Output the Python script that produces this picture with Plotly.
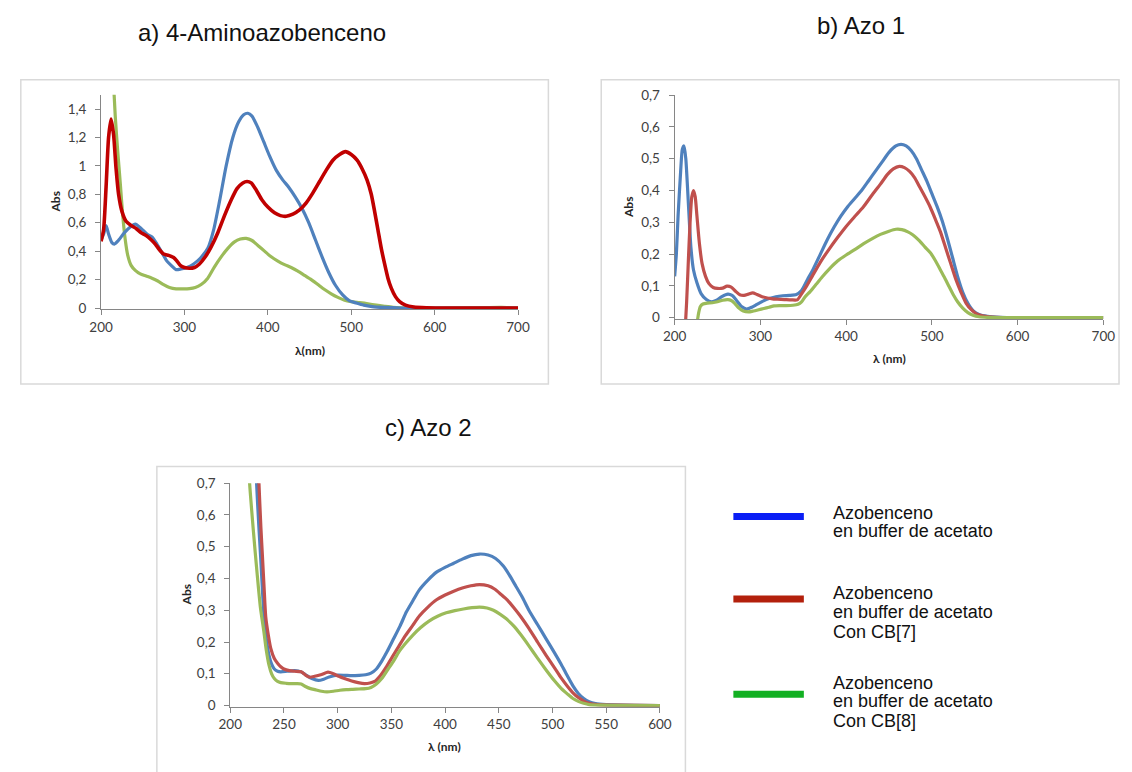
import plotly.graph_objects as go

W, H = 1132, 772

# ---------------- DATA ----------------
# a) 4-Aminoazobenceno
a_blue_wl = [200, 203, 206, 209, 213, 216, 220, 228, 235, 241, 248, 255, 261, 267, 273, 279, 284, 290, 296, 303,
             311, 319, 328, 335, 342, 350, 358, 365, 371, 376, 381, 388, 395, 402, 410, 418, 425, 433, 441, 449,
             457, 465, 473, 481, 490, 498, 506, 515, 525, 540, 560, 600, 700]
a_blue_abs = [0.48, 0.52, 0.58, 0.52, 0.46, 0.45, 0.47, 0.53, 0.57, 0.59, 0.56, 0.52, 0.50, 0.45, 0.39, 0.33, 0.30, 0.27, 0.275, 0.285,
              0.31, 0.35, 0.42, 0.55, 0.75, 1.00, 1.20, 1.31, 1.36, 1.37, 1.35, 1.27, 1.17, 1.07, 0.97, 0.90, 0.85, 0.78, 0.70, 0.60,
              0.48, 0.36, 0.25, 0.16, 0.09, 0.05, 0.035, 0.02, 0.01, 0.004, 0.0, 0.0, 0.0]

a_red_wl = [200, 203, 206, 209, 212, 215, 218, 221, 225, 230, 236, 242, 248, 254, 260, 265, 270, 275, 281, 287,
            291, 295, 300, 306, 312, 318, 325, 332, 340, 348, 356, 363, 370, 375, 380, 386, 393, 400, 408, 415,
            422, 430, 438, 446, 454, 462, 470, 478, 486, 493, 500, 507, 513, 519, 524, 528, 532, 536, 540, 544,
            548, 553, 558, 565, 575, 590, 620, 700]
a_red_abs = [0.47, 0.55, 0.85, 1.20, 1.33, 1.22, 0.98, 0.80, 0.68, 0.61, 0.58, 0.56, 0.53, 0.51, 0.48, 0.45, 0.41, 0.38, 0.37, 0.355,
             0.33, 0.30, 0.285, 0.28, 0.285, 0.31, 0.36, 0.43, 0.53, 0.65, 0.76, 0.84, 0.88, 0.89, 0.88, 0.83, 0.76, 0.71, 0.67, 0.65,
             0.645, 0.66, 0.69, 0.74, 0.81, 0.89, 0.97, 1.04, 1.08, 1.10, 1.08, 1.04, 0.98, 0.90, 0.80, 0.68, 0.55, 0.42, 0.31, 0.21,
             0.14, 0.08, 0.045, 0.02, 0.007, 0.002, 0.0, 0.0]

a_green_wl = [205, 210, 214, 217, 220, 223, 226, 229, 232, 236, 241, 247, 254, 261, 268, 275, 282, 290, 298, 306,
              313, 320, 328, 336, 344, 352, 360, 367, 374, 381, 388, 396, 404, 412, 420, 428, 436, 444, 452, 460,
              468, 476, 484, 492, 500, 510, 520, 530, 540, 550, 560, 600, 660, 680, 700]
a_green_abs = [3.0, 2.3, 1.7, 1.35, 1.10, 0.88, 0.65, 0.48, 0.37, 0.30, 0.265, 0.24, 0.225, 0.21, 0.19, 0.165, 0.145, 0.135, 0.135, 0.137,
               0.145, 0.165, 0.21, 0.29, 0.36, 0.42, 0.465, 0.485, 0.49, 0.475, 0.44, 0.40, 0.36, 0.33, 0.305, 0.285, 0.26, 0.23, 0.20, 0.165,
               0.13, 0.10, 0.075, 0.055, 0.045, 0.038, 0.03, 0.02, 0.012, 0.005, 0.002, 0.0, 0.003, 0.004, 0.0]

# b) Azo 1
b_blue_wl = [200, 202, 204, 207, 209, 211, 213, 216, 219, 222, 226, 231, 237, 243, 249, 255, 262, 267, 272, 278,
             284, 290, 296, 303, 310, 318, 326, 334, 342, 348, 355, 362, 370, 378, 386, 394, 402, 410, 418, 426,
             434, 442, 450, 458, 464, 470, 476, 482, 488, 494, 500, 506, 512, 518, 524, 530, 536, 542, 548, 555,
             565, 580, 600, 700]
b_blue_abs = [0.13, 0.20, 0.32, 0.46, 0.53, 0.54, 0.50, 0.36, 0.22, 0.15, 0.11, 0.075, 0.057, 0.05, 0.055, 0.066, 0.074, 0.07, 0.055, 0.035,
              0.027, 0.033, 0.042, 0.052, 0.06, 0.066, 0.069, 0.07, 0.073, 0.085, 0.12, 0.155, 0.20, 0.245, 0.285, 0.32, 0.35, 0.375, 0.40, 0.43,
              0.46, 0.49, 0.52, 0.54, 0.545, 0.54, 0.525, 0.50, 0.465, 0.43, 0.39, 0.35, 0.305, 0.25, 0.19, 0.13, 0.08, 0.045, 0.022, 0.01,
              0.004, 0.001, 0.0, 0.0]

b_red_wl = [212, 214, 216, 218, 220, 222, 224, 226, 229, 232, 236, 240, 245, 250, 256, 261, 266, 271, 276, 281,
            286, 291, 296, 302, 308, 314, 320, 328, 336, 343, 348, 354, 361, 370, 380, 390, 400, 410, 420, 430,
            440, 448, 455, 462, 468, 474, 480, 486, 492, 498, 504, 510, 516, 522, 528, 534, 540, 546, 552, 560,
            575, 600, 700]
b_red_abs = [-0.05, 0.05, 0.18, 0.30, 0.38, 0.40, 0.38, 0.32, 0.23, 0.17, 0.13, 0.107, 0.095, 0.092, 0.093, 0.099, 0.096, 0.083, 0.072, 0.07,
             0.074, 0.078, 0.073, 0.066, 0.062, 0.059, 0.058, 0.057, 0.056, 0.056, 0.075, 0.10, 0.133, 0.175, 0.215, 0.252, 0.287, 0.318, 0.348, 0.385,
             0.42, 0.45, 0.468, 0.476, 0.472, 0.46, 0.44, 0.41, 0.38, 0.348, 0.31, 0.27, 0.22, 0.17, 0.12, 0.08, 0.045, 0.025, 0.012, 0.005,
             0.001, 0.0, 0.0]

b_green_wl = [226, 228, 230, 233, 238, 244, 250, 256, 262, 266, 270, 275, 280, 286, 292, 298, 304, 310, 316, 322,
              330, 338, 344, 348, 352, 358, 365, 372, 380, 390, 400, 410, 420, 430, 440, 450, 458, 465, 472, 478,
              485, 492, 498, 504, 510, 515, 520, 525, 530, 536, 542, 548, 555, 565, 600, 700]
b_green_abs = [-0.02, 0.015, 0.035, 0.043, 0.046, 0.047, 0.05, 0.055, 0.057, 0.054, 0.045, 0.03, 0.021, 0.018, 0.021, 0.025, 0.029, 0.033, 0.037, 0.038,
               0.038, 0.039, 0.042, 0.05, 0.065, 0.082, 0.105, 0.128, 0.152, 0.178, 0.197, 0.214, 0.232, 0.248, 0.262, 0.272, 0.278, 0.277, 0.27, 0.26,
               0.243, 0.222, 0.205, 0.18, 0.15, 0.125, 0.098, 0.072, 0.05, 0.03, 0.016, 0.008, 0.003, 0.001, 0.0, 0.0]

# c) Azo 2
c_blue_wl = [220, 222.5, 224.5, 226.5, 228.3, 230, 231.4, 233.5, 236, 238.5, 241, 244, 247, 253, 260, 266, 271, 276, 282, 287,
             292, 300, 307, 313, 320, 326, 331, 336, 341, 346, 352, 358, 364, 370, 376, 384, 392, 400, 408, 416,
             424, 432, 440, 447, 454, 460, 466, 472, 478, 486, 494, 502, 508, 514, 519, 524, 529, 534, 540, 550,
             565, 600]
c_blue_abs = [1.10, 0.90, 0.70, 0.57, 0.466, 0.36, 0.28, 0.21, 0.159, 0.13, 0.115, 0.108, 0.106, 0.108, 0.11, 0.106, 0.095, 0.085, 0.079, 0.083,
              0.09, 0.096, 0.095, 0.094, 0.095, 0.097, 0.102, 0.115, 0.14, 0.17, 0.21, 0.25, 0.295, 0.33, 0.364, 0.395, 0.42, 0.435, 0.448, 0.461,
              0.472, 0.477, 0.474, 0.463, 0.44, 0.41, 0.375, 0.34, 0.30, 0.255, 0.21, 0.165, 0.13, 0.092, 0.062, 0.038, 0.022, 0.012, 0.006, 0.003,
              0.001, 0.0]

c_red_wl = [222, 224.5, 226.7, 228.5, 230, 231.5, 233, 235.5, 237.7, 241, 244, 247, 250, 255, 260, 266, 270, 274, 278.6, 285,
            291, 296, 301, 307, 313, 319, 325, 330, 335, 340, 345, 351, 357, 363, 370, 376, 384, 392, 400, 408,
            416, 424, 432, 440, 446, 452, 458, 464, 470, 478, 486, 494, 502, 508, 514, 519, 524, 529, 534, 542,
            560, 600]
c_red_abs = [1.10, 0.90, 0.70, 0.56, 0.466, 0.37, 0.28, 0.22, 0.18, 0.148, 0.133, 0.122, 0.115, 0.11, 0.108, 0.106, 0.096, 0.089, 0.092, 0.098,
             0.105, 0.10, 0.092, 0.084, 0.077, 0.072, 0.069, 0.071, 0.077, 0.095, 0.12, 0.154, 0.187, 0.22, 0.253, 0.282, 0.31, 0.333, 0.348, 0.36,
             0.37, 0.377, 0.381, 0.377, 0.367, 0.35, 0.332, 0.308, 0.282, 0.243, 0.20, 0.158, 0.118, 0.087, 0.06, 0.04, 0.025, 0.014, 0.007, 0.003,
             0.001, 0.0]

c_green_wl = [214, 216, 218, 221.5, 225, 228, 231.4, 233.5, 236, 238.5, 241, 244, 247, 252, 257, 262, 266, 270, 274, 280,
              285, 290, 296, 302, 308, 314, 320, 326, 331, 336, 341, 347, 352, 357, 363, 370, 377, 385, 393, 401,
              409, 417, 425, 432, 439, 445, 451, 457, 464, 470, 478, 486, 494, 502, 508, 514, 519, 524, 529, 534,
              545, 600]
c_green_abs = [1.00, 0.85, 0.70, 0.55, 0.415, 0.31, 0.23, 0.175, 0.128, 0.10, 0.085, 0.076, 0.072, 0.07, 0.069, 0.069, 0.068, 0.06, 0.054, 0.049,
               0.045, 0.043, 0.045, 0.048, 0.05, 0.051, 0.052, 0.053, 0.057, 0.068, 0.085, 0.115, 0.14, 0.169, 0.195, 0.222, 0.245, 0.266, 0.281, 0.292,
               0.299, 0.304, 0.308, 0.31, 0.307, 0.30, 0.288, 0.273, 0.25, 0.225, 0.188, 0.149, 0.112, 0.077, 0.054, 0.036, 0.022, 0.013, 0.007, 0.003,
               0.001, 0.0]

# tick labels
a_y_vals = [0, 0.2, 0.4, 0.6, 0.8, 1.0, 1.2, 1.4]
a_y_text = ["0", "0,2", "0,4", "0,6", "0,8", "1", "1,2", "1,4"]
bc_y_vals = [0, 0.1, 0.2, 0.3, 0.4, 0.5, 0.6, 0.7]
bc_y_text = ["0", "0,1", "0,2", "0,3", "0,4", "0,5", "0,6", "0,7"]
ab_x_vals = [200, 300, 400, 500, 600, 700]
c_x_vals = [200, 250, 300, 350, 400, 450, 500, 550, 600]

titles = ["a) 4-Aminoazobenceno", "b) Azo 1", "c) Azo 2"]
legend_lines = [["Azobenceno", "en buffer de acetato"],
                ["Azobenceno", "en buffer de acetato", "Con CB[7]"],
                ["Azobenceno", "en buffer de acetato", "Con CB[8]"]]

# ---------------- STYLE ----------------
BLUE = "#4f81bd"
RED_A = "#c00000"
RED = "#c0504d"
GREEN = "#9bbb59"
LEG_COLORS = ["#0a1ef5", "#b3200c", "#12b022"]
AXC = "#868686"
TICKFONT = dict(family="Lato", size=13.5, color="#404040")


def fx(p):
    return p / W


def fy(p):
    return 1 - p / H


fig = go.Figure()


def add(x, y, color, xa, ya, width=3.2):
    fig.add_trace(go.Scatter(x=x, y=y, mode="lines", xaxis=xa, yaxis=ya,
                             line=dict(color=color, width=width, shape="spline", smoothing=0.6),
                             showlegend=False, hoverinfo="skip"))


add(a_green_wl, a_green_abs, GREEN, "x", "y")
add(a_blue_wl, a_blue_abs, BLUE, "x", "y")
add(a_red_wl, a_red_abs, RED_A, "x", "y", 3.6)

add(b_blue_wl, b_blue_abs, BLUE, "x2", "y2")
add(b_red_wl, b_red_abs, RED, "x2", "y2")
add(b_green_wl, b_green_abs, GREEN, "x2", "y2")

add(c_blue_wl, c_blue_abs, BLUE, "x3", "y3")
add(c_red_wl, c_red_abs, RED, "x3", "y3")
add(c_green_wl, c_green_abs, GREEN, "x3", "y3")


def xaxis(domain, anchor, rng, vals):
    return dict(domain=domain, anchor=anchor, range=rng, tickvals=vals,
                ticktext=[str(v) for v in vals], showline=True, linecolor=AXC, linewidth=1,
                ticks="outside", ticklen=5, tickcolor=AXC, showgrid=False, zeroline=False,
                tickfont=TICKFONT, fixedrange=True, ticklabelstandoff=0)


def yaxis(domain, anchor, rng, vals, text):
    return dict(domain=domain, anchor=anchor, range=rng, tickvals=vals, ticktext=text,
                showline=True, linecolor=AXC, linewidth=1, ticks="outside", ticklen=5,
                tickcolor=AXC, showgrid=False, zeroline=False, tickfont=TICKFONT,
                fixedrange=True, ticklabelstandoff=6)


layout = dict(
    width=W, height=H, margin=dict(l=0, r=0, t=0, b=0),
    paper_bgcolor="white", plot_bgcolor="white", showlegend=False,
    xaxis=xaxis([fx(91), fx(517)], "y", [200, 700], ab_x_vals),
    yaxis=yaxis([fy(307), fy(88.4)], "x", [-0.01, 1.5], a_y_vals, a_y_text),
    xaxis2=xaxis([fx(677), fx(1115)], "y2", [200, 700], ab_x_vals),
    yaxis2=yaxis([fy(316.7), fy(88.7)], "x2", [-0.004, 0.7], bc_y_vals, bc_y_text),
    xaxis3=xaxis([fx(223), fx(662)], "y3", [200, 600], c_x_vals),
    yaxis3=yaxis([fy(711.7), fy(484)], "x3", [-0.004, 0.7], bc_y_vals, bc_y_text),
)
fig.update_layout(**layout)

# frames around the charts
BOX = "#d9d9d9"
for (x0, y0, x1, y1) in [(9, 73, 548, 383), (602, 73, 1131, 383), (148, 467, 688, 800)]:
    fig.add_shape(type="rect", xref="paper", yref="paper", x0=fx(x0), x1=fx(x1), y0=fy(y1), y1=fy(y0),
                  line=dict(color=BOX, width=1.5), fillcolor="rgba(0,0,0,0)", layer="below")

ann = []
TITLEFONT = dict(family="Liberation Sans, Arial", size=24, color="#111111")
for t, (cx, cy) in zip(titles, [(255, 25), (867, 18), (426, 427)]):
    ann.append(dict(text=t, x=fx(cx), y=fy(cy), xref="paper", yref="paper", showarrow=False,
                    xanchor="center", yanchor="middle", font=TITLEFONT))

AXT = dict(family="Lato", size=12, color="#262626")
for (cx, cy) in [(44, 198), (630, 203), (178, 598)]:
    ann.append(dict(text="<b>Abs</b>", x=fx(cx), y=fy(cy), xref="paper", yref="paper", showarrow=False,
                    textangle=-90, xanchor="center", yanchor="middle", font=AXT))
for t, (cx, cy) in zip(["<b>λ(nm)</b>", "<b>λ (nm)</b>", "<b>λ (nm)</b>"], [(304, 349), (896, 357), (442, 752)]):
    ann.append(dict(text=t, x=fx(cx), y=fy(cy), xref="paper", yref="paper", showarrow=False,
                    xanchor="center", yanchor="middle", font=AXT))

# custom legend
LEGFONT = dict(family="Liberation Sans, Arial", size=18, color="#111111")
leg_line_y = [518, 602, 699]
leg_text_y = [[514.5, 533], [596, 615.5, 635.5], [687, 706, 726]]
for col, ly, lines, tys in zip(LEG_COLORS, leg_line_y, legend_lines, leg_text_y):
    fig.add_shape(type="line", xref="paper", yref="paper", x0=fx(737), x1=fx(809), y0=fy(ly), y1=fy(ly),
                  line=dict(color=col, width=7))
    for txt, ty in zip(lines, tys):
        ann.append(dict(text=txt, x=fx(837), y=fy(ty), xref="paper", yref="paper", showarrow=False,
                        xanchor="left", yanchor="middle", font=LEGFONT))

fig.update_layout(annotations=ann)
fig.write_html("out.html", config={"displayModeBar": False},
               post_script="document.body.style.margin='0';document.body.style.overflow='hidden';")
